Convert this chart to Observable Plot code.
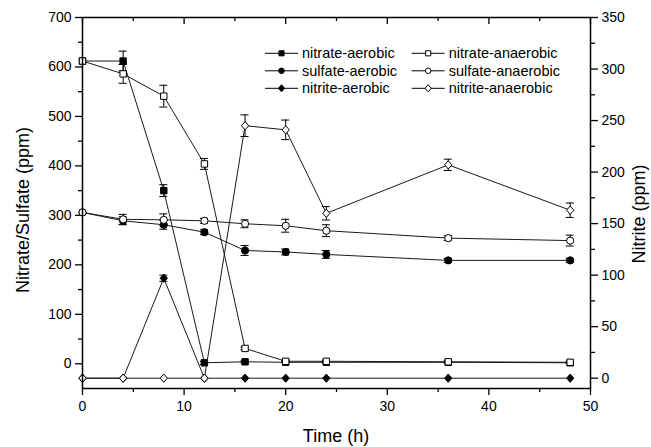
<!DOCTYPE html>
<html><head><meta charset="utf-8">
<script src="https://cdn.jsdelivr.net/npm/d3@7"></script>
<script src="https://cdn.jsdelivr.net/npm/@observablehq/plot@0.6"></script>
<style>body{margin:0;background:#fff} svg{display:block}</style>
</head><body><div id="chart"></div>
<script>
const times = [0, 4, 8, 12, 16, 20, 24, 36, 48];
const nitrateAerobic = [612, 612, 350, 2, 4, 3, 3, 3, 2];
const nitrateAerobicErr = [0, 20, 12, 3, 2, 1, 1, 1, 1];
const nitrateAnaerobic = [612, 586, 541, 404, 31, 5, 5, 4, 3];
const nitrateAnaerobicErr = [0, 19, 22, 11, 3, 2, 2, 2, 2];
const sulfateAerobic = [306, 289, 281, 266, 229, 226, 221, 209, 209];
const sulfateAerobicErr = [0, 8, 9, 5, 10, 6, 8, 4, 4];
const sulfateAnaerobic = [306, 292, 291, 289, 283, 279, 269, 254, 249];
const sulfateAnaerobicErr = [0, 10, 12, 5, 8, 13, 12, 5, 11];
const nitriteAerobic = [0, 0, 97, 0, 0, 0, 0, 0, 0];
const nitriteAerobicErr = [0, 0, 3, 0, 0, 0, 0, 0, 0];
const nitriteAnaerobic = [0, 0, 0, 0, 245, 241, 160, 207, 163];
const nitriteAnaerobicErr = [0, 0, 0, 0, 10.5, 9.5, 6.5, 5.5, 7];

const xDomain = [0, 50];
const xMajor = [0, 10, 20, 30, 40, 50];
const xMinor = [5, 15, 25, 35, 45];
const leftDomain = [-50, 700];
const leftMajor = [0, 100, 200, 300, 400, 500, 600, 700];
const leftMinor = [50, 150, 250, 350, 450, 550, 650];
const rightDomain = [-10, 350];
const rightMajor = [0, 50, 100, 150, 200, 250, 300, 350];
const rightMinor = [25, 75, 125, 175, 225, 275, 325];

const xTitle = "Time (h)";
const leftTitle = "Nitrate/Sulfate (ppm)";
const rightTitle = "Nitrite (ppm)";

const k = (leftDomain[1] - leftDomain[0]) / (rightDomain[1] - rightDomain[0]);
const toLeft = v => leftDomain[0] + (v - rightDomain[0]) * k;
const fromLeft = y => rightDomain[0] + (y - leftDomain[0]) / k;

const diamond = {
  draw(ctx, size) {
    const h = Math.sqrt(size / Math.PI) * 1.15;
    const w = h * 0.88;
    ctx.moveTo(0, -h); ctx.lineTo(w, 0); ctx.lineTo(0, h); ctx.lineTo(-w, 0); ctx.closePath();
  }
};

const series = [
  {name: "nitrate-aerobic", values: nitrateAerobic, err: nitrateAerobicErr, right: false, symbol: "square", filled: true},
  {name: "nitrate-anaerobic", values: nitrateAnaerobic, err: nitrateAnaerobicErr, right: false, symbol: "square", filled: false},
  {name: "sulfate-aerobic", values: sulfateAerobic, err: sulfateAerobicErr, right: false, symbol: "circle", filled: true},
  {name: "sulfate-anaerobic", values: sulfateAnaerobic, err: sulfateAnaerobicErr, right: false, symbol: "circle", filled: false},
  {name: "nitrite-aerobic", values: nitriteAerobic, err: nitriteAerobicErr, right: true, symbol: diamond, filled: true},
  {name: "nitrite-anaerobic", values: nitriteAnaerobic, err: nitriteAnaerobicErr, right: true, symbol: diamond, filled: false}
];

const drawOrder = [0, 2, 4, 1, 3, 5];
const seriesMarks = [];
for (const idx of drawOrder) {
  const s = series[idx];
  const conv = s.right ? toLeft : (v => v);
  const rows = times.map((t, i) => ({
    t, y: conv(s.values[i]), lo: conv(s.values[i] - s.err[i]), hi: conv(s.values[i] + s.err[i]), e: s.err[i]
  }));
  const errRows = rows.filter(d => d.e > 0);
  seriesMarks.push(
    Plot.line(rows, {x: "t", y: "y", stroke: "#1a1a1a", strokeWidth: 1}),
    Plot.ruleX(errRows, {x: "t", y1: "lo", y2: "hi", stroke: "black", strokeWidth: 1}),
    Plot.ruleY(errRows, {y: "lo", x1: "t", x2: "t", insetLeft: -4, insetRight: -4, stroke: "black", strokeWidth: 1}),
    Plot.ruleY(errRows, {y: "hi", x1: "t", x2: "t", insetLeft: -4, insetRight: -4, stroke: "black", strokeWidth: 1}),
    Plot.dot(rows, {x: "t", y: "y", r: 3.6, symbol: s.symbol, fill: s.filled ? "black" : "white", stroke: "black", strokeWidth: 1})
  );
}

const tickW = 1.3;
const chart = Plot.plot({
  width: 651, height: 447,
  marginLeft: 82, marginRight: 61, marginTop: 17, marginBottom: 59,
  x: {domain: xDomain, label: null},
  y: {domain: leftDomain, label: null},
  style: {fontFamily: "'Liberation Sans', Arial, sans-serif", fontSize: "14px", color: "black", background: "white"},
  marks: [
    Plot.axisX({ticks: xMajor, tickSize: 7, tickPadding: 6, label: null, strokeWidth: tickW}),
    Plot.axisX({ticks: xMinor, tickSize: 4, tickFormat: () => "", label: null, strokeWidth: tickW}),
    Plot.ruleX(xMajor, {x: d => d, y1: leftDomain[1], y2: leftDomain[1], insetBottom: -7, stroke: "black", strokeWidth: tickW}),
    Plot.ruleX(xMinor, {x: d => d, y1: leftDomain[1], y2: leftDomain[1], insetBottom: -4, stroke: "black", strokeWidth: tickW}),
    Plot.axisY({ticks: leftMajor, tickSize: 7, tickPadding: 4, label: null, strokeWidth: tickW}),
    Plot.axisY({ticks: leftMinor, tickSize: 4, tickFormat: () => "", label: null, strokeWidth: tickW}),
    Plot.axisY(rightMajor.map(toLeft), {anchor: "right", tickSize: 7, tickPadding: 4, label: null, strokeWidth: tickW, tickFormat: d => String(Math.round(fromLeft(d)))}),
    Plot.axisY(rightMinor.map(toLeft), {anchor: "right", tickSize: 4, tickFormat: () => "", label: null, strokeWidth: tickW}),
    ...seriesMarks,
    Plot.frame({stroke: "black", strokeWidth: 1.5})
  ]
});

document.getElementById("chart").appendChild(chart);

// titles and legend
const svg = d3.select(chart);
const font = "'Liberation Sans', Arial, sans-serif";
svg.append("text").text(xTitle).attr("x", 336).attr("y", 442).attr("text-anchor", "middle")
  .attr("font-family", font).attr("font-size", 18).attr("fill", "black");
svg.append("text").text(leftTitle).attr("transform", "translate(28.5,210) rotate(-90)").attr("text-anchor", "middle")
  .attr("font-family", font).attr("font-size", 18).attr("fill", "black");
svg.append("text").text(rightTitle).attr("transform", "translate(645,214) rotate(-90)").attr("text-anchor", "middle")
  .attr("font-family", font).attr("font-size", 18).attr("fill", "black");

const legend = svg.append("g");
const colX = [265, 411.7];
const rowY = [53.3, 70.8, 88.3];
series.forEach((s, i) => {
  const row = Math.floor(i / 2), col = i % 2;
  const x0 = colX[col], y0 = rowY[row];
  const g = legend.append("g");
  g.append("line").attr("x1", x0).attr("x2", x0 + 33).attr("y1", y0).attr("y2", y0).attr("stroke", "black").attr("stroke-width", 1);
  const sym = s.symbol === "square" ? d3.symbolSquare : s.symbol === "circle" ? d3.symbolCircle : diamond;
  const size = s.symbol === "square" ? 26 : s.symbol === "circle" ? 24 : 30;
  g.append("path").attr("d", d3.symbol(sym, size)()).attr("transform", `translate(${x0 + 16.5},${y0})`)
    .attr("fill", s.filled ? "black" : "white").attr("stroke", "black").attr("stroke-width", 1);
  g.append("text").text(s.name).attr("x", x0 + 37).attr("y", y0 + 5).attr("text-anchor", "start")
    .attr("font-family", font).attr("font-size", 14.5).attr("fill", "black");
});
</script>
</body></html>
